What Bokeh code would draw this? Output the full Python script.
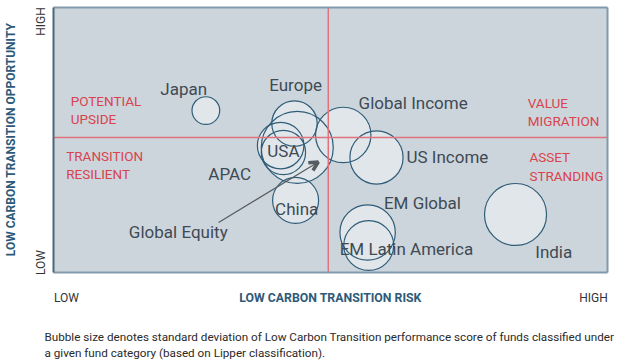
import math
from bokeh.plotting import figure
from bokeh.models import Arrow, OpenHead, Range1d, ColumnDataSource
from bokeh.core.properties import value
from bokeh.embed import file_html
from bokeh.resources import INLINE

# ---- data (scores on a 0-100 scale) ----
categories = ["Japan", "Europe", "APAC", "USA", "Global  Equity", "China",
              "Global  Income", "US Income", "EM Global", "EM Latin America", "India"]
risk_score = [27.5, 43.5, 41.0, 41.5, 44.0, 43.7, 52.3, 58.3, 56.7, 56.9, 83.4]
opportunity_score = [61.1, 56.2, 47.9, 45.3, 47.2, 27.2, 51.9, 43.4, 15.1, 10.2, 21.9]
std_dev = [2.5, 4.1, 4.2, 4.0, 6.5, 4.15, 5.0, 4.8, 5.0, 4.5, 5.6]

# label anchor points (data units)
label_x = [23.5, 43.7, 31.8, 41.5, 22.9, 43.9, 65.3, 71.1, 66.6, 63.7, 90.3]
label_y = [69.4, 70.9, 37.0, 46.0, 15.1, 23.8, 63.8, 43.4, 26.4, 8.7, 7.9]

quadrant_text = ["POTENTIAL", "UPSIDE", "TRANSITION", "RESILIENT",
                 "VALUE", "MIGRATION", "ASSET", "STRANDING"]
quadrant_x = [3.1, 3.1, 2.3, 2.3, 85.6, 85.6, 85.9, 85.9]
quadrant_y = [64.9, 58.1, 43.8, 37.0, 63.8, 57.0, 43.4, 36.6]

axis_ticks = ["LOW", "HIGH"]
x_axis_title = "LOW CARBON TRANSITION RISK"
y_axis_title = "LOW CARBON TRANSITION OPPORTUNITY"
footnote = ["Bubble size denotes standard deviation of Low Carbon Transition performance score of funds classified under",
            "a given fund category (based on Lipper classification)."]

risk_mid = 49.6
opportunity_mid = 50.9

FONT = "Roboto"
CIRCLE_FILL = "#e1e6ea"
CIRCLE_LINE = "#2f5d78"
LABEL_COLOR = "#3e4a54"
RED = "#d9434e"
TITLE_COLOR = "#2d5a78"

# the whole canvas is the frame; the chart area spans 0..100 in both axes
XPX, YPX = 5.54, 2.65
p = figure(frame_width=627, frame_height=361,
           x_range=Range1d(-53 / XPX, (627 - 53) / XPX),
           y_range=Range1d((272 - 361) / YPX, 272 / YPX),
           output_backend="svg", toolbar_location=None, min_border=0)
p.axis.visible = False
p.grid.visible = False
p.background_fill_color = "white"
p.border_fill_color = "white"
p.outline_line_color = None

# chart area
p.quad(left=[0], right=[100], bottom=[0], top=[100],
       fill_color="#cdd5dc", line_color=None)

src = ColumnDataSource(dict(x=risk_score, y=opportunity_score, r=std_dev,
                            name=categories, lx=label_x, ly=label_y))

# fills first, then outlines so all edges remain visible
p.circle(x="x", y="y", radius="r", source=src, fill_color=CIRCLE_FILL,
         line_color=None)
p.circle(x="x", y="y", radius="r", source=src, fill_color=None,
         line_color=CIRCLE_LINE, line_width=1.2)

# quadrant dividers
p.segment(x0=[risk_mid, 0], y0=[0, opportunity_mid],
          x1=[risk_mid, 100], y1=[100, opportunity_mid],
          line_color="#e0737b", line_width=1.5)

# chart border
p.segment(x0=[0, 100, 0], y0=[100, 0, 0], x1=[100, 100, 100], y1=[100, 100, 0],
          line_color="#8199aa", line_width=2)
p.segment(x0=[0], y0=[0], x1=[0], y1=[100], line_color="#4d6678", line_width=2)

p.text(x="lx", y="ly", text="name", source=src,
       text_align="center", text_baseline="middle",
       text_font=value(FONT), text_font_size="17px", text_color=LABEL_COLOR)

qsrc = ColumnDataSource(dict(x=quadrant_x, y=quadrant_y, t=quadrant_text))
p.text(x="x", y="y", text="t", source=qsrc, text_align="left",
       text_baseline="middle", text_font=value(FONT),
       text_font_size="13.5px", text_color=RED)

# arrow pointing at the Global Equity bubble
p.add_layout(Arrow(x_start=29.8, y_start=18.9, x_end=47.8, y_end=41.7,
                   line_color="#555c62", line_width=1.2,
                   end=OpenHead(size=9, line_width=3.5, line_color="#555c62")))

def lab(text, x, y, size="12px", color="#333333", angle=0.0, bold=False,
        align="center"):
    p.text(x=[x], y=[y], text=[text], text_font=value(FONT),
           text_font_size=size, text_color=color, angle=angle,
           text_align=align, text_baseline="middle",
           text_font_style="bold" if bold else "normal")

lab(axis_ticks[1], (40 - 53) / XPX, (272 - 21) / YPX, angle=math.pi / 2)
lab(axis_ticks[0], (40 - 53) / XPX, (272 - 262) / YPX, angle=math.pi / 2)
lab(y_axis_title, (10 - 53) / XPX, (272 - 139) / YPX, size="12px",
    color=TITLE_COLOR, angle=math.pi / 2, bold=True)
lab(axis_ticks[0], (66 - 53) / XPX, (272 - 297) / YPX)
lab(axis_ticks[1], (593 - 53) / XPX, (272 - 297) / YPX)
lab(x_axis_title, (330 - 53) / XPX, (272 - 297) / YPX, size="12.3px",
    color=TITLE_COLOR, bold=True)
lab(footnote[0], (44 - 53) / XPX, (272 - 336) / YPX, size="11.7px",
    color="#2a2a2a", align="left")
lab(footnote[1], (44 - 53) / XPX, (272 - 352) / YPX, size="11.7px",
    color="#2a2a2a", align="left")

open("out.html", "w").write(file_html(p, INLINE))
